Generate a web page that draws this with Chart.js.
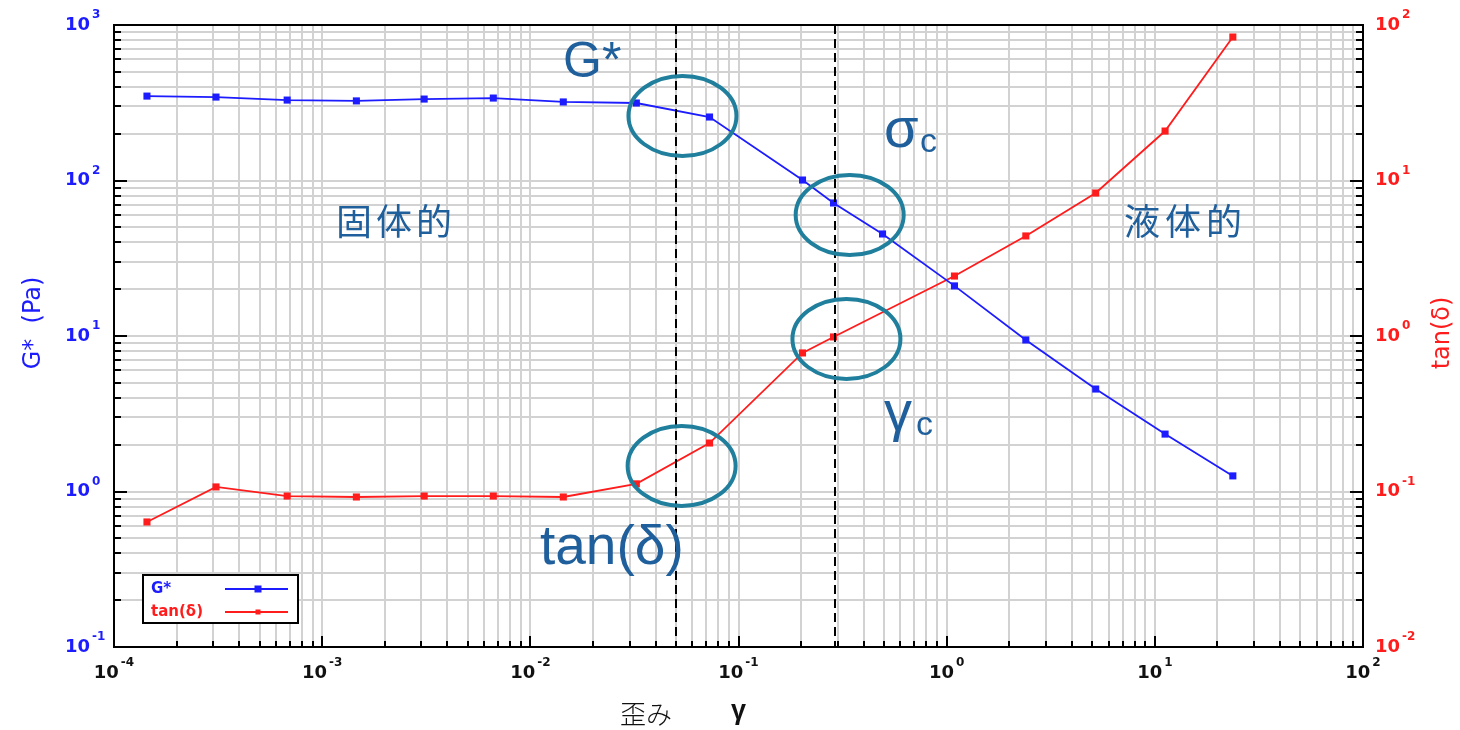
<!DOCTYPE html>
<html><head><meta charset="utf-8">
<script src="https://cdn.jsdelivr.net/npm/chart.js@4/dist/chart.umd.min.js"></script>
<style>html,body{margin:0;padding:0;background:#fff;overflow:hidden}#wrap{width:1460px;height:730px}</style>
</head><body><div id="wrap"><canvas id="c" width="1460" height="730"></canvas></div>
<script>
// ---- data ----
const strain   = [1.44e-4, 3.09e-4, 6.79e-4, 1.46e-3, 3.09e-3, 6.64e-3, 0.0144, 0.0323, 0.0726, 0.203, 0.286, 0.492, 1.09, 2.40, 5.20, 11.2, 23.7];
const gStar    = [349, 344, 329, 325, 334, 339, 320, 315, 256, 100.7, 71.7, 45.3, 21.0, 9.43, 4.56, 2.34, 1.26];
const tanDelta = [0.0637, 0.107, 0.0935, 0.0922, 0.0935, 0.0935, 0.0922, 0.112, 0.205, 0.778, 0.986, null, 2.43, 4.40, 8.31, 20.8, 83.7];
const xTickExps = [-4, -3, -2, -1, 0, 1, 2];
const gTickExps = [-1, 0, 1, 2, 3];
const tTickExps = [-2, -1, 0, 1, 2];
const criticalStrains = [0.05, 0.29];
const circleStrain = [0.0538, 0.342, 0.33, 0.0533];
const circleGStar  = [260, 60, 9.57, 1.46];
const seriesNames = ['G*', 'tan(δ)'];
const regionLabels = ['固体的', '液体的'];
const xTitle = ['歪み', 'γ'];
const yTitle = 'G*  (Pa)';
const y2Title = 'tan(δ)';

const BLUE = '#1c1cff', RED = '#ff1c1c', ANN = '#1f5f9c', CIRC = '#1f7f9c';

function logTicks(minE, maxE) {
  const t = [];
  for (let e = minE; e < maxE; e++) for (let k = 1; k <= 9; k++) t.push({value: k * Math.pow(10, e)});
  t.push({value: Math.pow(10, maxE)});
  return t;
}

function drawPow(ctx, x, y, exp, mode, color) {
  ctx.save();
  ctx.fillStyle = color;
  ctx.textBaseline = 'middle';
  const base = 'bold 18px "DejaVu Sans"', sup = 'bold 12px "DejaVu Sans"';
  ctx.font = base; const wb = ctx.measureText('10').width;
  ctx.font = sup; const ws = ctx.measureText(String(exp)).width;
  let x0;
  if (mode === 'right') x0 = x - wb;
  else if (mode === 'left') x0 = x;
  else x0 = x - (wb + 2 + ws) / 2;
  ctx.textAlign = 'left';
  ctx.font = base; ctx.fillText('10', x0, y);
  ctx.font = sup; ctx.fillText(String(exp), x0 + wb + 2, y - 10);
  ctx.restore();
}

const decor = {
  id: 'decor',
  afterDatasetsDraw(chart) {
    const ctx = chart.ctx, a = chart.chartArea;
    const xs = chart.scales.x, ys = chart.scales.y;
    ctx.save();
    ctx.strokeStyle = '#000'; ctx.lineWidth = 2; ctx.setLineDash([9, 5]);
    criticalStrains.forEach(v => {
      const px = Math.round(xs.getPixelForValue(v));
      ctx.beginPath(); ctx.moveTo(px, a.top); ctx.lineTo(px, a.bottom); ctx.stroke();
    });
    ctx.setLineDash([]);
    ctx.strokeStyle = CIRC; ctx.lineWidth = 4;
    circleStrain.forEach((v, i) => {
      const cx = xs.getPixelForValue(v), cy = ys.getPixelForValue(circleGStar[i]);
      ctx.beginPath(); ctx.ellipse(cx, cy, 54, 40, 0, 0, Math.PI * 2); ctx.stroke();
    });
    ctx.fillStyle = ANN; ctx.textBaseline = 'alphabetic'; ctx.textAlign = 'left';
    ctx.font = '50px "Liberation Sans"';
    ctx.fillText('G*', 563, 77);
    ctx.font = '56px "Liberation Sans"';
    ctx.fillText('σ', 884, 147);
    ctx.fillText('γ', 884, 430);
    ctx.font = '34px "Liberation Sans"';
    ctx.fillText('c', 920, 152);
    ctx.fillText('c', 916, 435);
    ctx.font = '55px "Liberation Sans"';
    ctx.fillText('tan(δ)', 540, 564);
    ctx.font = '36px "Noto Sans CJK JP"';
    ctx.textAlign = 'center';
    [...regionLabels[0]].forEach((ch, i) => ctx.fillText(ch, 354 + i * 40, 235));
    [...regionLabels[1]].forEach((ch, i) => ctx.fillText(ch, 1142 + i * 41, 235));
    ctx.restore();
  },
  afterDraw(chart) {
    const ctx = chart.ctx, a = chart.chartArea;
    const xs = chart.scales.x, ys = chart.scales.y, y2 = chart.scales.y2;
    ctx.save();
    ctx.strokeStyle = '#000'; ctx.lineWidth = 2;
    ctx.beginPath();
    const isMajor = v => Math.abs(Math.log10(v) - Math.round(Math.log10(v))) < 1e-9;
    logTicks(-4, 2).forEach(t => {
      const px = Math.round(xs.getPixelForValue(t.value));
      ctx.moveTo(px, a.bottom); ctx.lineTo(px, a.bottom - (isMajor(t.value) ? 11 : 6));
    });
    logTicks(-1, 3).forEach(t => {
      const py = Math.round(ys.getPixelForValue(t.value));
      ctx.moveTo(a.left, py); ctx.lineTo(a.left + (isMajor(t.value) ? 13 : 7), py);
    });
    logTicks(-2, 2).forEach(t => {
      const py = Math.round(y2.getPixelForValue(t.value));
      ctx.moveTo(a.right, py); ctx.lineTo(a.right - (isMajor(t.value) ? 13 : 7), py);
    });
    ctx.stroke();
    ctx.lineWidth = 2;
    ctx.strokeRect(a.left, a.top, a.right - a.left, a.bottom - a.top);
    xTickExps.forEach(e => drawPow(ctx, xs.getPixelForValue(Math.pow(10, e)), 673, e, 'center', '#111'));
    gTickExps.forEach(e => drawPow(ctx, 90, ys.getPixelForValue(Math.pow(10, e)), e, 'right', BLUE));
    tTickExps.forEach(e => drawPow(ctx, 1375, y2.getPixelForValue(Math.pow(10, e)), e, 'left', RED));
    ctx.textAlign = 'center'; ctx.textBaseline = 'middle';
    ctx.save(); ctx.translate(34, 323); ctx.rotate(-Math.PI / 2);
    ctx.fillStyle = BLUE; ctx.font = '24px "DejaVu Sans"'; ctx.fillText(yTitle, 0, 0); ctx.restore();
    ctx.save(); ctx.translate(1443, 333); ctx.rotate(-Math.PI / 2);
    ctx.fillStyle = RED; ctx.font = '24px "DejaVu Sans"'; ctx.fillText(y2Title, 0, 0); ctx.restore();
    ctx.fillStyle = '#111'; ctx.textAlign = 'left'; ctx.textBaseline = 'alphabetic';
    ctx.font = '300 26px "Noto Sans CJK JP"'; ctx.fillText(xTitle[0], 620, 724);
    ctx.font = 'bold 27px "Liberation Sans"'; ctx.fillText(xTitle[1], 731, 719);
    ctx.textBaseline = 'middle';
    ctx.fillStyle = '#fff'; ctx.fillRect(143, 575, 155, 48);
    ctx.strokeStyle = '#000'; ctx.lineWidth = 2; ctx.strokeRect(143, 575, 155, 48);
    const rows = [[BLUE, 589, 7], [RED, 612, 5]];
    rows.forEach((r, i) => {
      ctx.fillStyle = r[0]; ctx.font = 'bold 15px "DejaVu Sans"'; ctx.textAlign = 'left';
      ctx.fillText(seriesNames[i], 151, r[1]);
      ctx.strokeStyle = r[0]; ctx.lineWidth = 1.8;
      ctx.beginPath(); ctx.moveTo(225, r[1]); ctx.lineTo(288, r[1]); ctx.stroke();
      ctx.fillRect(258 - r[2] / 2, r[1] - r[2] / 2, r[2], r[2]);
    });
    ctx.restore();
  }
};

const gridOpt = {color: '#d2d2d2', lineWidth: 2, drawTicks: false};
new Chart(document.getElementById('c'), {
  type: 'line',
  data: {
    datasets: [
      {label: seriesNames[0], data: strain.map((x, i) => ({x, y: gStar[i]})), yAxisID: 'y',
       borderColor: BLUE, backgroundColor: BLUE, borderWidth: 1.8, pointStyle: 'rect', pointRadius: 5,
       pointBorderWidth: 0, tension: 0},
      {label: seriesNames[1], data: strain.map((x, i) => ({x, y: tanDelta[i]})), yAxisID: 'y2',
       borderColor: RED, backgroundColor: RED, borderWidth: 1.8, pointStyle: 'rect', pointRadius: 5,
       pointBorderWidth: 0, tension: 0, spanGaps: true}
    ]
  },
  options: {
    responsive: false, animation: false, devicePixelRatio: 1,
    layout: {padding: {top: 25, left: 0, right: 0, bottom: 0}},
    plugins: {legend: {display: false}, tooltip: {enabled: false}},
    scales: {
      x: {type: 'logarithmic', position: 'bottom', min: 1e-4, max: 100,
          grid: gridOpt, border: {display: false}, ticks: {display: false},
          afterBuildTicks: s => { s.ticks = logTicks(-4, 2); },
          afterFit: s => { s.height = 83; }},
      y: {type: 'logarithmic', position: 'left', min: 0.1, max: 1000,
          grid: gridOpt, border: {display: false}, ticks: {display: false},
          afterBuildTicks: s => { s.ticks = logTicks(-1, 3); },
          afterFit: s => { s.width = 114; }},
      y2: {type: 'logarithmic', position: 'right', min: 0.01, max: 100,
           grid: {display: false}, border: {display: false}, ticks: {display: false},
           afterBuildTicks: s => { s.ticks = logTicks(-2, 2); },
           afterFit: s => { s.width = 97; }}
    }
  },
  plugins: [decor]
});
</script></body></html>
